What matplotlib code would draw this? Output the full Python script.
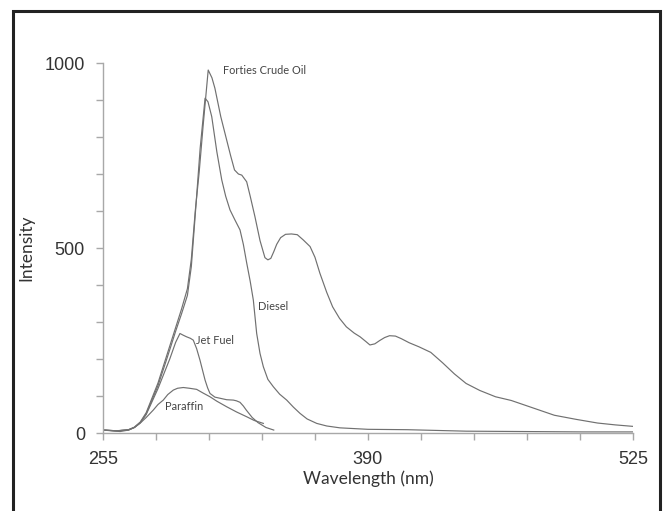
import matplotlib.pyplot as plt
from matplotlib.patches import Rectangle

# (nm, intensity)
crude_wl = [255, 262, 268, 271, 274, 277, 280, 283, 286, 289, 292, 295, 298, 300, 302,
            304, 306, 308.6, 310.5, 312, 315, 318, 320, 322, 324, 325.7, 328.2, 330,
            332.4, 335, 337.5, 339, 340.5, 342, 343.5, 345.5, 348, 351, 354, 357,
            360.5, 363, 365.5, 369, 372, 375.5, 379, 383, 386, 389, 391, 393.5, 396,
            398.5, 401, 404, 407, 411, 416, 422, 428, 434, 440, 447, 455, 463, 474,
            485, 496, 507, 516, 525]
crude_int = [8, 6, 9, 16, 30, 55, 95, 135, 185, 235, 285, 335, 390, 470, 600,
             705, 830, 981, 960, 932, 855, 792, 750, 711, 700, 697, 679, 640,
             585, 520, 474, 468, 472, 490, 510, 528, 537, 538, 536, 522,
             504, 475, 432, 380, 341, 310, 287, 270, 260, 247, 238, 241, 250,
             258, 263, 262, 255, 244, 233, 218, 190, 160, 134, 115, 98, 88, 68,
             48, 37, 27, 22, 18]

diesel_wl = [255, 262, 268, 271, 274, 277, 280, 283, 286, 289, 292, 295, 298, 300, 302,
             304.5, 307, 308.5, 310.4, 313, 315.5, 317.5, 319.7, 322.2, 324.8, 326.5,
             328.2, 330, 331.6, 333.3, 335, 336.7, 339, 341.8, 345, 348.6, 352, 355.4,
             359, 363.9, 369, 375.7, 390, 410, 440, 470, 500, 525]
diesel_int = [8, 6, 9, 15, 28, 52, 90, 128, 176, 225, 275, 322, 372, 450, 590,
              770, 905, 895, 855, 760, 684, 640, 603, 576, 549, 510,
              460, 410, 359, 269, 215, 179, 145, 125, 105, 89, 70, 53,
              38, 26, 19, 14, 10, 9, 5, 4, 3, 3]

jet_wl = [255, 262, 268, 271, 274, 277, 280, 283, 286, 289, 292, 294.2, 296, 297.6,
          299.5, 301, 302.7, 304.4, 305.7, 307, 308.3, 309.5, 312, 314.6, 318, 321.4,
          323, 324.8, 326.5, 328, 331, 334, 338, 342]
jet_int = [8, 6, 8, 15, 28, 50, 85, 120, 160, 200, 245, 269, 264, 260,
           256, 251, 228, 197, 170, 143, 122, 107, 97, 94, 90, 89,
           87, 83, 73, 62, 42, 28, 15, 8]

paraffin_wl = [255, 263.7, 268, 271, 273.8, 277, 280.6, 283, 285.7, 288, 290.8, 293,
               295.9, 299, 302.7, 306, 309.5, 313, 318, 323, 328.2, 332, 336.7]
paraffin_int = [8, 4, 8, 15, 26, 42, 62, 77, 89, 104, 116, 121,
                123, 121, 118, 108, 98, 86, 71, 57, 44, 34, 26]

labels = ["Forties Crude Oil", "Diesel", "Jet Fuel", "Paraffin"]
label_pos = [(316, 979), (334, 341), (302.5, 251), (286.6, 71)]

fig = plt.figure(figsize=(6.69, 5.11), dpi=100)
ax = fig.add_axes([0.154, 0.1526, 0.792, 0.7241])

line_col = "#707070"
for wl, it in [(crude_wl, crude_int), (diesel_wl, diesel_int),
               (jet_wl, jet_int), (paraffin_wl, paraffin_int)]:
    ax.plot(wl, it, color=line_col, lw=0.85)

for txt, (x, y) in zip(labels, label_pos):
    ax.text(x, y, txt, fontsize=7.9, color="#444444", family="Lato",
            ha="left", va="center")

ax.set_xlim(255, 525)
ax.set_ylim(0, 1000)
xt = list(range(255, 526, 27))
ax.set_xticks(xt)
ax.set_xticklabels([str(v) if v in (255, 390, 525) else "" for v in xt])
yt = list(range(0, 1001, 100))
ax.set_yticks(yt)
ax.set_yticklabels([str(v) if v in (0, 500, 1000) else "" for v in yt])

for s in ["top", "right"]:
    ax.spines[s].set_visible(False)
for s in ["left", "bottom"]:
    ax.spines[s].set_color("#a8a8a8")
    ax.spines[s].set_linewidth(1.0)
ax.tick_params(direction="out", length=5, width=1, color="#a8a8a8",
               labelcolor="#333333", labelsize=13, pad=8)
for lab in ax.get_xticklabels() + ax.get_yticklabels():
    lab.set_family("Liberation Sans")

ax.set_xlabel("Wavelength (nm)", fontsize=12.5, color="#333333", family="Lato", labelpad=2)
ax.set_ylabel("Intensity", fontsize=12.5, color="#333333", family="Lato")
ax.yaxis.set_label_coords(-0.130, 0.5)

# black frame round the whole figure
fig.patches.append(Rectangle((13 / 669, -0.05), (660 - 13) / 669, 1 - 11 / 511 + 0.05,
                             transform=fig.transFigure, fill=False,
                             edgecolor="#222222", linewidth=2.2))

fig.savefig("out.png", dpi=100)
